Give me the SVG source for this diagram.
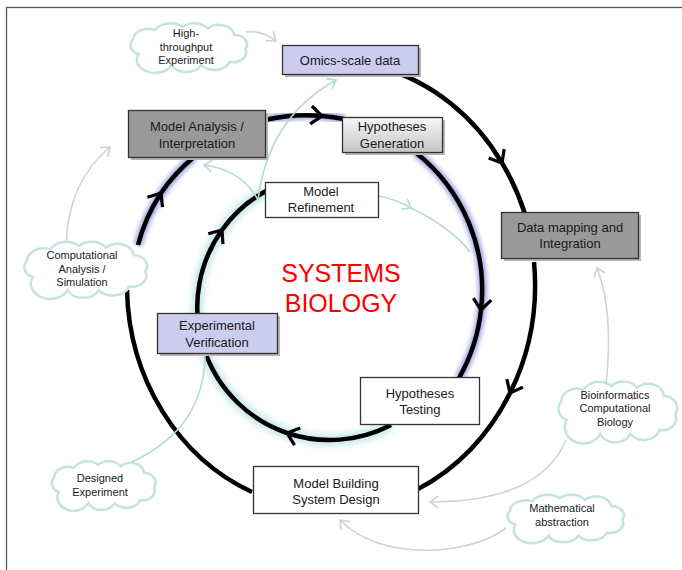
<svg xmlns="http://www.w3.org/2000/svg" xmlns:xlink="http://www.w3.org/1999/xlink" width="682" height="570" viewBox="0 0 682 570">
<style>
text{font-family:"Liberation Sans",Arial,sans-serif;fill:#1a1a1a;text-anchor:middle}
.bt{font-size:13px}
.ct{font-size:11px}
.box{stroke:#333;stroke-width:1.3}
.sh{fill:#b8b8b8}
.ring{fill:none;stroke:#000;stroke-width:4.5}
.ringA{fill:none;stroke:#000;stroke-width:4.5;marker-end:url(#ah)}
.glowB{fill:none;stroke:#5a5ad0;stroke-width:9;opacity:0.55;filter:url(#blur)}
.glowT{fill:none;stroke:#9fd6d6;stroke-width:11;opacity:0.6;filter:url(#blur2)}
.lg{fill:none;stroke:#d2d2d2;stroke-width:1.6}
.lt{fill:none;stroke:#b3d9d9;stroke-width:1.6}
.cl{fill:#fff;stroke:#c6e3e3;stroke-width:2.5}
</style>
<defs>
<filter id="blur" x="-20%" y="-20%" width="140%" height="140%"><feGaussianBlur stdDeviation="2"/></filter>
<filter id="blur2" x="-20%" y="-20%" width="140%" height="140%"><feGaussianBlur stdDeviation="3"/></filter>
<linearGradient id="hg" x1="0" y1="0" x2="0" y2="1"><stop offset="0" stop-color="#f6f6f6"/><stop offset="1" stop-color="#c6c6c6"/></linearGradient>
<marker id="ah" viewBox="-14 -12 17 24" refX="0" refY="0" markerWidth="17" markerHeight="24" markerUnits="userSpaceOnUse" orient="auto"><path d="M-11,-9 L0,0 L-11,9" fill="none" stroke="#000" stroke-width="3.2"/></marker>
<marker id="ag" viewBox="-11 -8 13 16" refX="0" refY="0" markerWidth="13" markerHeight="16" markerUnits="userSpaceOnUse" orient="auto"><path d="M-8,-6 L0,0 L-8,6" fill="none" stroke="#d2d2d2" stroke-width="1.6"/></marker>
<marker id="at" viewBox="-11 -8 13 16" refX="0" refY="0" markerWidth="13" markerHeight="16" markerUnits="userSpaceOnUse" orient="auto"><path d="M-8,-6 L0,0 L-8,6" fill="none" stroke="#b3d9d9" stroke-width="1.6"/></marker>
<path id="cloud" vector-effect="non-scaling-stroke" d="M-45,10 A12,12 0 0 1 -50,-8 A14,14 0 0 1 -30,-20 A16,16 0 0 1 -5,-24 A15,15 0 0 1 18,-22 A14,14 0 0 1 42,-14 A12,12 0 0 1 52,4 A12,12 0 0 1 38,20 A15,15 0 0 1 12,24 A15,15 0 0 1 -15,24 A16.5,16.5 0 0 1 -45,10 Z"/>
</defs>
<rect x="0" y="0" width="682" height="570" fill="#fff"/>
<rect x="6.5" y="7.5" width="700" height="600" fill="none" stroke="#555" stroke-width="1.3"/>

<g id="connectors">
  <!-- glows -->
  <path class="glowB" d="M138,245 A175,175 0 0 1 194,157"/>
  <path class="glowB" d="M265,120 A175,175 0 0 1 344,119"/>
  <path class="glowB" d="M415,152 A175,175 0 0 1 459,378"/>
  <path class="glowT" d="M391,425 A133,133 0 0 1 287,433 A133,133 0 0 1 222,230 A133,133 0 0 1 266,191"/>
  <!-- outer ring -->
  <path class="ringA" d="M383,68 A204,225 0 0 1 502,163"/>
  <path class="ring" d="M502,163 A204,225 0 0 1 525,214"/>
  <path class="ringA" d="M534,262 A204,225 0 0 1 510,393"/>
  <path class="ring" d="M510,393 A204,225 0 0 1 418,489"/>
  <path class="ring" d="M252,492 A204,225 0 0 1 127,290"/>
  <!-- middle ring -->
  <path class="ringA" d="M138,245 A175,175 0 0 1 161,193"/>
  <path class="ring" d="M161,193 A175,175 0 0 1 194,157"/>
  <path class="ringA" d="M265,120 A175,175 0 0 1 322,116"/>
  <path class="ring" d="M322,116 A175,175 0 0 1 344,119"/>
  <path class="ringA" d="M415,152 A175,175 0 0 1 481,310"/>
  <path class="ring" d="M481,310 A175,175 0 0 1 459,378"/>
  <!-- inner ring -->
  <path class="ringA" d="M391,425 A133,133 0 0 1 287,433"/>
  <path class="ringA" d="M287,433 A133,133 0 0 1 222,230"/>
  <path class="ring" d="M222,230 A133,133 0 0 1 266,191"/>
  <!-- light connectors -->
  <path class="lg" marker-end="url(#ag)" d="M246,32 Q262,30 276,41"/>
  <path class="lg" marker-end="url(#ag)" d="M66,245 Q68,182 110,147"/>
  <path class="lt" marker-end="url(#at)" d="M258,200 Q268,118 336,80"/>
  <path class="lt" marker-end="url(#at)" d="M258,200 Q242,170 204,165"/>
  <path class="lt" marker-end="url(#at)" d="M378,196 Q396,199 411,208"/>
  <path class="lt" d="M411,208 Q452,228 470,252"/>
  <path class="lt" d="M132,462 Q205,428 205,354"/>
  <path class="lg" marker-end="url(#ag)" d="M566,440 Q540,502 430,502"/>
  <path class="lg" marker-end="url(#ag)" d="M506,528 C470,556 380,562 340,520"/>
  <path class="lg" marker-end="url(#ag)" d="M606,385 Q614,312 597,268"/>
</g>

<g id="omics">
  <rect class="sh" x="285" y="48" width="136" height="29"/>
  <rect class="box" x="282.5" y="45.5" width="136" height="29" fill="#ccccee"/>
  <text class="bt" x="350" y="64.5">Omics-scale data</text>
</g>
<g id="model-analysis">
  <rect class="sh" x="131" y="113" width="137" height="47"/>
  <rect class="box" x="128.5" y="110.5" width="137" height="47" fill="#999"/>
  <text class="bt" x="197" y="131">Model Analysis /</text>
  <text class="bt" x="197" y="147.5">Interpretation</text>
</g>
<g id="hyp-gen">
  <rect class="sh" x="345" y="120" width="100" height="35"/>
  <rect class="box" x="342.5" y="117.5" width="100" height="35" fill="url(#hg)"/>
  <text class="bt" x="392" y="131">Hypotheses</text>
  <text class="bt" x="392" y="147.5">Generation</text>
</g>
<g id="model-refinement">
  <rect class="box" x="265.5" y="182.5" width="113" height="35" fill="#fff"/>
  <text class="bt" x="321" y="195.5">Model</text>
  <text class="bt" x="321" y="212">Refinement</text>
</g>
<g id="data-mapping">
  <rect class="sh" x="504" y="215" width="137" height="46"/>
  <rect class="box" x="501.5" y="212.5" width="137" height="46" fill="#999"/>
  <text class="bt" x="570" y="231.5">Data mapping and</text>
  <text class="bt" x="570" y="248">Integration</text>
</g>
<g id="exp-verification">
  <rect class="sh" x="160" y="316" width="120" height="40"/>
  <rect class="box" x="157.5" y="313.5" width="120" height="40" fill="#ccccee"/>
  <text class="bt" x="217" y="330">Experimental</text>
  <text class="bt" x="217" y="346.5">Verification</text>
</g>
<g id="hyp-testing">
  <rect class="box" x="360.5" y="377.5" width="119" height="47" fill="#fff"/>
  <text class="bt" x="420" y="397.5">Hypotheses</text>
  <text class="bt" x="420" y="414">Testing</text>
</g>
<g id="model-building">
  <rect class="box" x="253.5" y="466.5" width="165" height="47" fill="#fff"/>
  <text class="bt" x="336" y="487.5">Model Building</text>
  <text class="bt" x="336" y="503.5">System Design</text>
</g>
<g id="title">
  <text x="341" y="282" style="font-size:25px;fill:#ff0000">SYSTEMS</text>
  <text x="341" y="312" style="font-size:25px;fill:#ff0000">BIOLOGY</text>
</g>

<g id="cloud-high-throughput">
  <use xlink:href="#cloud" class="cl" transform="translate(188,46) scale(1.1,0.8)"/>
  <text class="ct" x="186" y="37">High-</text>
  <text class="ct" x="186" y="50.5">throughput</text>
  <text class="ct" x="186" y="64">Experiment</text>
</g>
<g id="cloud-computational">
  <use xlink:href="#cloud" class="cl" transform="translate(85,268) scale(1.16,0.92)"/>
  <text class="ct" x="82" y="259">Computational</text>
  <text class="ct" x="82" y="273">Analysis /</text>
  <text class="ct" x="82" y="286">Simulation</text>
</g>
<g id="cloud-designed">
  <use xlink:href="#cloud" class="cl" transform="translate(103,484) scale(0.98,0.8)"/>
  <text class="ct" x="100" y="482">Designed</text>
  <text class="ct" x="100" y="496">Experiment</text>
</g>
<g id="cloud-bioinformatics">
  <use xlink:href="#cloud" class="cl" transform="translate(617,410) scale(1.12,1.0)"/>
  <text class="ct" x="615" y="399">Bioinformatics</text>
  <text class="ct" x="615" y="412">Computational</text>
  <text class="ct" x="615" y="426">Biology</text>
</g>
<g id="cloud-mathematical">
  <use xlink:href="#cloud" class="cl" transform="translate(565,517) scale(1.1,0.78)"/>
  <text class="ct" x="562" y="512">Mathematical</text>
  <text class="ct" x="562" y="525.5">abstraction</text>
</g>
</svg>
